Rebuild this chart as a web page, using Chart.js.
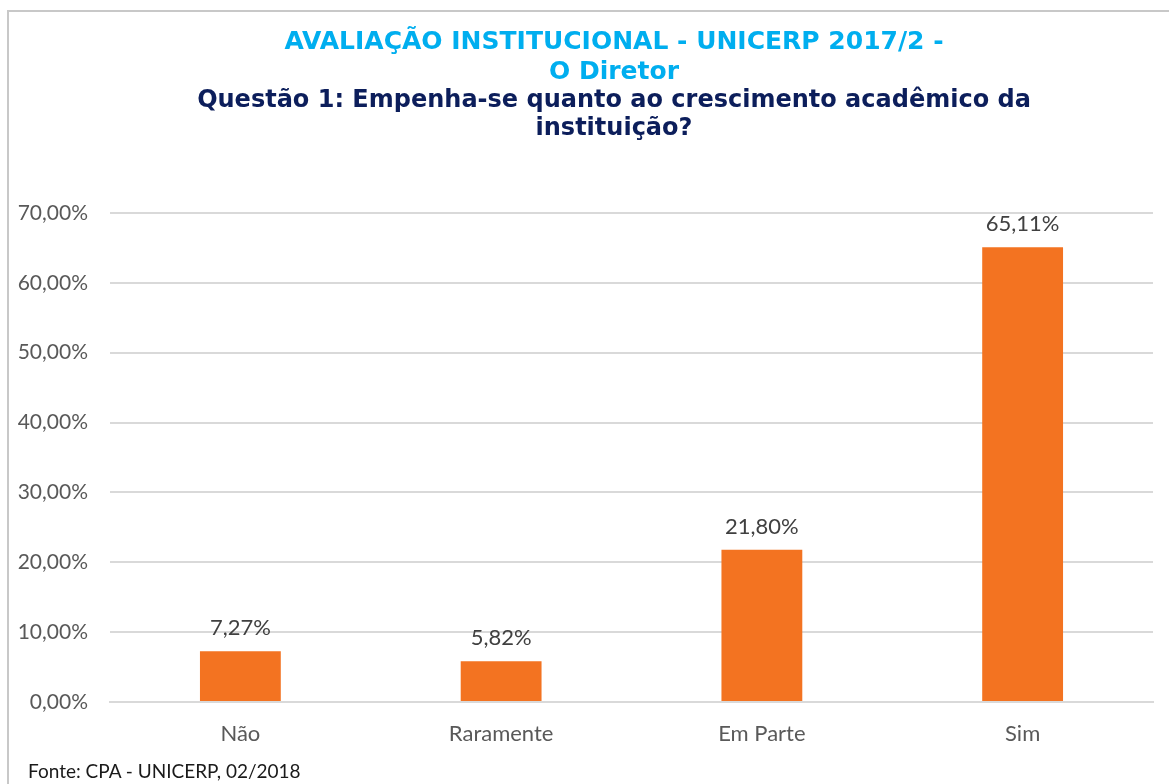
<!DOCTYPE html>
<html>
<head>
<meta charset="utf-8">
<script src="https://cdn.jsdelivr.net/npm/chart.js@4.4.0/dist/chart.umd.min.js"></script>
<style>
html,body{margin:0;padding:0;background:#fff;}
#wrap{position:relative;width:1169px;height:784px;overflow:hidden;}
#frame{position:absolute;left:7px;top:10px;width:1200px;height:800px;border:2px solid #c8c8c8;box-sizing:border-box;}
#c{position:absolute;left:0;top:0;}
#fonte{position:absolute;left:28px;top:759px;font-family:Lato,"Open Sans",sans-serif;font-size:19px;color:#1a1a1a;}
</style>
</head>
<body>
<div id="wrap">
<div id="frame"></div>
<canvas id="c" width="1169" height="784"></canvas>
<div id="fonte">Fonte: CPA - UNICERP, 02/2018</div>
</div>
<script>
const titleLines = ["AVALIAÇÃO INSTITUCIONAL - UNICERP 2017/2 -", "O Diretor"];
const subtitleLines = ["Questão 1: Empenha-se quanto ao crescimento acadêmico da", "instituição?"];
const categories = ["Não", "Raramente", "Em Parte", "Sim"];
const values = [7.27, 5.82, 21.80, 65.11];
const yTicks = [0, 10, 20, 30, 40, 50, 60, 70];

const fmt = v => v.toFixed(2).replace('.', ',') + '%';

const labelPlugin = {
  id: 'barLabels',
  afterDatasetsDraw(chart) {
    const ctx = chart.ctx;
    const meta = chart.getDatasetMeta(0);
    ctx.save();
    ctx.font = '22px Lato, "Open Sans", sans-serif';
    ctx.fillStyle = '#404040';
    ctx.textAlign = 'center';
    ctx.textBaseline = 'middle';
    meta.data.forEach((bar, i) => {
      ctx.fillText(fmt(values[i]), bar.x, bar.y - 23);
    });
    ctx.restore();
  }
};

// shift the title/subtitle boxes so that they are centred like the reference
const titleShift = {
  id: 'titleShift',
  afterLayout(chart) {
    const T = chart.titleBlock && chart.titleBlock.constructor;
    chart.boxes.forEach(b => {
      if (T && b instanceof T) { b.left = 75; }
    });
  }
};

new Chart(document.getElementById('c'), {
  type: 'bar',
  data: {
    labels: categories,
    datasets: [{
      data: values,
      backgroundColor: '#F37321',
      borderWidth: 0,
      barPercentage: 0.31,
      categoryPercentage: 1
    }]
  },
  options: {
    responsive: false,
    animation: false,
    layout: { padding: { left: 0, right: 16, top: 0, bottom: 32 } },
    plugins: {
      legend: { display: false },
      tooltip: { enabled: false },
      title: {
        display: true,
        text: titleLines,
        color: '#00AEEF',
        font: { family: '"DejaVu Sans"', size: 25, weight: 'bold', lineHeight: 1.2 },
        padding: { top: 27, bottom: 0 }
      },
      subtitle: {
        display: true,
        text: subtitleLines,
        color: '#0C1E5B',
        font: { family: '"DejaVu Sans"', size: 24, weight: 'bold', lineHeight: 1.1667 },
        padding: { top: 0, bottom: 70 }
      }
    },
    scales: {
      y: {
        min: 0, max: 70,
        afterBuildTicks: s => { s.ticks = yTicks.map(v => ({ value: v })); },
        afterFit: s => { s.width = 110; },
        grid: { color: '#d9d9d9', lineWidth: 2, drawTicks: false },
        border: { display: false },
        ticks: {
          padding: 22,
          color: '#595959',
          font: { family: 'Lato', size: 21 },
          callback: v => fmt(v)
        }
      },
      x: {
        afterFit: s => { s.height = 50; },
        grid: { display: false, drawTicks: false },
        border: { display: true, color: '#d9d9d9', width: 2 },
        ticks: {
          padding: 19,
          color: '#595959',
          font: { family: 'Lato', size: 22 }
        }
      }
    }
  },
  plugins: [labelPlugin, titleShift]
});
</script>
</body>
</html>
